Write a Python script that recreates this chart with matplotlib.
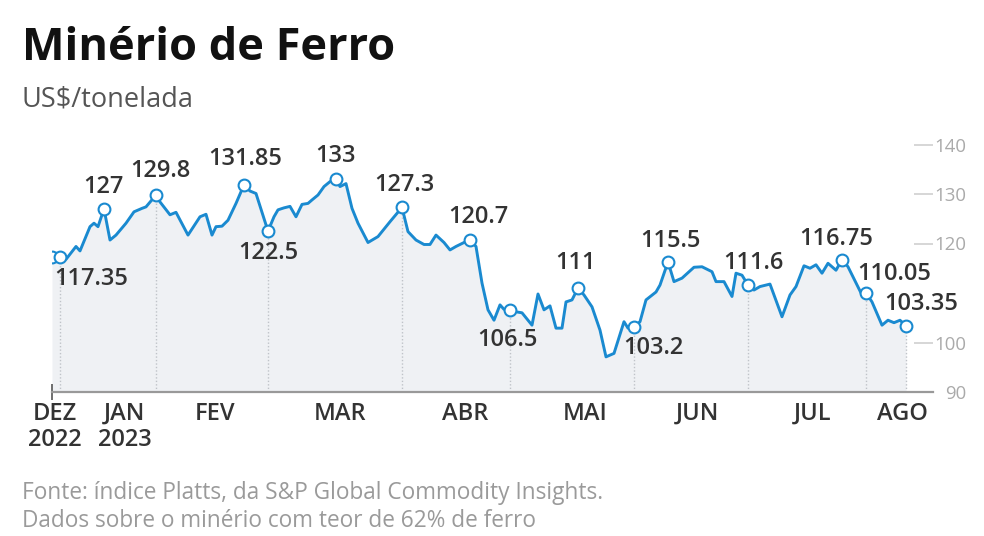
import matplotlib
matplotlib.use("Agg")
import matplotlib.pyplot as plt

plt.rcParams['font.family'] = ['Open Sans', 'DejaVu Sans']

# ---- data (x = days since start of series, y = US$/t) ----
days = [0, 2, 3.5, 6, 7, 9.5, 10.5, 11.5, 13, 14.5, 16, 18.5, 20.5, 22.5, 23.5, 26,
        27, 29.5, 31, 34, 37, 38.5, 40, 41, 42.5, 44, 46, 48, 49.5, 51, 54, 55.5,
        56.5, 58, 59.5, 61, 62.5, 64, 65, 66.5, 68, 69.5, 71, 72, 73.5, 75, 76.5,
        79, 81.5, 84.5, 87.5, 89, 91, 93, 94.5, 96, 98, 99.5, 101, 103, 104.5, 106,
        107.5, 109, 110.5, 112, 113, 114.5, 116, 117.5, 120, 121.5, 123, 124.5, 126,
        127.5, 128.5, 130, 131.5, 133, 135, 137, 138.5, 140.5, 143, 144, 145.5, 147,
        148.5, 151, 152, 154, 155.5, 157.5, 160.5, 162.5, 165, 166, 168, 170, 171,
        172.5, 174, 175.5, 177, 179.5, 182.5, 184.5, 186, 188, 189.5, 191, 192.5,
        194, 195, 196, 197.5, 199, 202.5, 203.5, 205, 207.5, 209, 210.5, 212, 213.5]
prices = [117.35, 117.35, 116.8, 119.4, 118.5, 123.4, 124.1, 123.4, 127.0, 120.7,
          121.7, 124.1, 126.4, 127.1, 127.4, 129.8, 128.4, 125.8, 126.3, 121.7,
          125.4, 125.9, 121.7, 123.4, 123.5, 124.7, 128.1, 131.85, 130.6, 130.1,
          122.5, 125.4, 126.8, 127.2, 127.5, 125.4, 127.9, 128.1, 128.8, 129.8,
          131.5, 132.5, 133.0, 131.5, 132.1, 127.1, 124.1, 120.2, 121.4, 124.4,
          127.3, 122.4, 120.7, 119.8, 119.8, 121.7, 120.2, 118.7, 119.4, 120.2,
          120.7, 119.4, 112.0, 106.6, 104.5, 107.6, 106.7, 106.5, 106.2, 106.0,
          103.5, 109.8, 106.6, 107.4, 102.9, 102.9, 108.2, 108.6, 111.0, 109.6,
          107.2, 102.5, 97.1, 97.8, 104.2, 102.9, 103.2, 104.2, 108.6, 110.2,
          111.6, 116.3, 112.3, 113.0, 115.2, 115.3, 114.3, 112.3, 112.3, 109.3,
          114.0, 113.6, 111.6, 110.6, 111.3, 111.8, 105.2, 109.6, 111.3, 115.5,
          115.0, 115.7, 114.0, 116.0, 115.3, 114.6, 116.75, 115.3, 109.6, 110.05,
          108.2, 103.5, 104.5, 104.0, 104.5, 103.35]

# highlighted points (days) and their labels
mark_days = [0, 2, 13, 26, 48, 54, 71, 87.5, 104.5, 114.5, 131.5, 145.5, 154, 174,
             197.5, 203.5, 213.5]
mark_labels = ['', '117.35', '127', '129.8', '131.85', '122.5', '133', '127.3',
               '120.7', '106.5', '111', '103.2', '115.5', '111.6', '116.75',
               '110.05', '103.35']
guide_days = [2, 26, 54, 87.5, 114.5, 145.5, 174, 203.5, 213.5]

month_pos = [0.75, 18.25, 40.75, 72, 103.25, 133.25, 161.25, 190.25, 212.5]
month_labels = ['DEZ\n2022', 'JAN\n2023', 'FEV', 'MAR', 'ABR', 'MAI', 'JUN', 'JUL', 'AGO']
y_ticks = [90, 100, 120, 130, 140]

title = 'Minério de Ferro'
subtitle = 'US$/tonelada'
source = ('Fonte: índice Platts, da S&P Global Commodity Insights.\n'
          'Dados sobre o minério com teor de 62% de ferro')

# ---- layout / style ----
label_offsets = [(0, 0), (31, -22), (-1, 22), (4, 24), (1, 26), (0, -22), (0, 23),
                 (2, 22), (8, 23), (-3, -30), (-2, 25), (19, -21), (2, 21), (5, 22),
                 (-6, 21), (28, 19), (15, 22)]
BLUE = '#1a8ad0'
W, H = 984, 536

fig = plt.figure(figsize=(W / 100, H / 100), dpi=100)
ax = fig.add_axes([52 / W, 1 - 392 / H, 881 / W, 247.5 / H])
ax.set_xlim(0, 220.25)
ax.set_ylim(90, 140)

ax.fill_between(days, prices, 90, color='#eff1f4', lw=0, zorder=1)

price_at = dict(zip(days, prices))
for d in guide_days:
    ax.plot([d, d], [90, price_at[d]], color='#bfc3c8', lw=1, ls=(0, (1, 1.5)), zorder=2)

ax.plot(days, prices, color=BLUE, lw=2.1, zorder=3, solid_joinstyle='round')

mx = mark_days
my = [price_at[d] for d in mark_days]
ax.plot(mx, my, ls='none', marker='o', ms=8.5, mfc='white', mec=BLUE, mew=1.5, zorder=4)

for d, lab, off in zip(mark_days, mark_labels, label_offsets):
    if lab:
        ax.annotate(lab, (d, price_at[d]), xytext=off, textcoords='offset pixels',
                    ha='center', va='center', fontsize=17, fontweight='semibold',
                    color='#333333', zorder=5, annotation_clip=False)

for s in ['top', 'left', 'right']:
    ax.spines[s].set_visible(False)
ax.spines['bottom'].set_color('#999999')
ax.spines['bottom'].set_linewidth(1.6)

ax.set_xticks(month_pos, month_labels)
ax.set_xticks([0], minor=True)
ax.tick_params(axis='x', which='major', length=0, pad=7, labelsize=17, labelcolor='#333333')
ax.tick_params(axis='x', which='minor', length=11, width=1.2, direction='inout', color='#555555')
for t in ax.get_xticklabels():
    t.set_fontweight('semibold')
    t.set_linespacing(1.15)

ax.yaxis.tick_right()
ax.set_yticks(y_ticks)
ax.tick_params(axis='y', direction='in', length=13.5, width=1.2, color='#d0d0d0',
               labelcolor='#aaaaaa', labelsize=13.4, pad=24)
for t in ax.get_yticklabels():
    t.set_ha('right')

fig.text(22 / W, 1 - 48 / H, title, fontsize=32.5, fontweight='bold', color='#111111',
         ha='left', va='center')
fig.text(22 / W, 1 - 100 / H, subtitle, fontsize=19.5, color='#555555',
         ha='left', va='center')
fig.text(22 / W, 1 - 507 / H, source, fontsize=16.3, color='#9a9a9a',
         ha='left', va='center', linespacing=1.2)

fig.savefig('out.png', dpi=100)
